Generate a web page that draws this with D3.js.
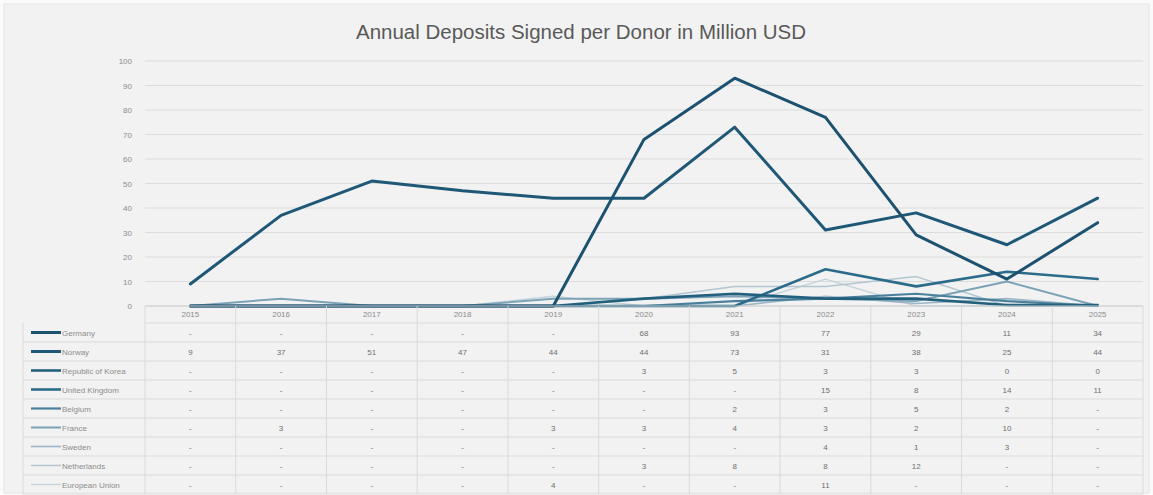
<!DOCTYPE html>
<html><head><meta charset="utf-8">
<script src="https://cdn.jsdelivr.net/npm/d3@7"></script>
<style>
html,body{margin:0;padding:0;background:#fafafa;}
svg{display:block;}
</style></head>
<body>
<svg id="chart" width="1153" height="495"></svg>
<script>
const title = "Annual Deposits Signed per Donor in Million USD";
const years = ["2015","2016","2017","2018","2019","2020","2021","2022","2023","2024","2025"];
const donors = ["Germany","Norway","Republic of Korea","United Kingdom","Belgium","France","Sweden","Netherlands","European Union"];
const germany     = [0,0,0,0,0,68,93,77,29,11,34];
const norway      = [9,37,51,47,44,44,73,31,38,25,44];
const korea       = [0,0,0,0,0,3,5,3,3,0.4,0.4];
const uk          = [0,0,0,0,0,0,0,15,8,14,11];
const belgium     = [0,0,0,0,0,0,2,3,5,2,0];
const france      = [0,3,0,0,3,3,4,3,2,10,0];
const sweden      = [0,0,0,0,0,0,0,4,1,3,0];
const netherlands = [0,0,0,0,0,3,8,8,12,0,0];
const eu          = [0,0,0,0,4,0,0,11,0,0,0];
const yTicks = [0,10,20,30,40,50,60,70,80,90,100];

const seriesValues = [germany,norway,korea,uk,belgium,france,sweden,netherlands,eu];
const colors = ["#1c5170","#1f5876","#23607e","#2c6b89","#4a809b","#7ca2b7","#9cb6c6","#b2c5d0","#c5d3db"];
const widths = [3,3,2.6,2.6,2.2,2,1.6,1.5,1.4];

const svg = d3.select("#chart");
const W = 1153, H = 495;
svg.append("rect").attr("x",4).attr("y",4).attr("width",W-8).attr("height",H-6)
  .attr("fill","#f2f2f2").attr("stroke","#e4e4e4");

svg.append("text").attr("x",581).attr("y",39).attr("text-anchor","middle")
  .attr("font-family","'Liberation Sans Narrow','Arial Narrow','Liberation Sans',sans-serif")
  .attr("font-size",20.5).attr("fill","#595959").text(title);

const pLeft = 145, pRight = 1143, pTop = 61, pBottom = 306;
const x = d3.scaleBand().domain(years).range([pLeft,pRight]);
const y = d3.scaleLinear().domain([0,100]).range([pBottom,pTop]);

// gridlines
svg.append("g").selectAll("line").data(yTicks).join("line")
  .attr("x1",pLeft).attr("x2",pRight).attr("y1",d=>y(d)).attr("y2",d=>y(d))
  .attr("stroke","#dcdcdc").attr("stroke-width",1);

// y axis labels
const yAxis = d3.axisLeft(y).tickValues(yTicks).tickSize(0).tickPadding(0);
const ga = svg.append("g").attr("transform",`translate(${pLeft-13},0)`).call(yAxis);
ga.select(".domain").remove();
ga.selectAll("text").attr("font-family","'Liberation Sans',sans-serif").attr("font-size",8).attr("fill","#8c8c8c");

// lines
const line = d3.line().x((d,i)=>x(years[i])+x.bandwidth()/2).y(d=>y(d));
const order = d3.range(donors.length).reverse();
svg.append("g").selectAll("path").data(order).join("path")
  .attr("d",i=>line(seriesValues[i])).attr("fill","none")
  .attr("stroke",i=>colors[i]).attr("stroke-width",i=>widths[i])
  .attr("stroke-linejoin","round").attr("stroke-linecap","round");

// data table
const rowH = 19, headTop = pBottom, headBot = 323;
const tableLeft = 23;
const gt = svg.append("g");
const rowY = i => headBot + i*rowH;
const tableBottom = rowY(donors.length);
gt.selectAll("line.h").data(d3.range(donors.length+1)).join("line")
  .attr("x1",i=>i===0?pLeft:tableLeft).attr("x2",pRight)
  .attr("y1",i=>rowY(i)).attr("y2",i=>rowY(i))
  .attr("stroke","#dadada");
gt.append("line").attr("x1",pLeft).attr("x2",pRight).attr("y1",pBottom).attr("y2",pBottom).attr("stroke","#d0d0d0");
const vx = years.map(yr=>x(yr)).concat([pRight]);
gt.selectAll("line.v").data(vx).join("line")
  .attr("x1",d=>d).attr("x2",d=>d).attr("y1",headTop).attr("y2",tableBottom)
  .attr("stroke","#dadada");
gt.append("line").attr("x1",tableLeft).attr("x2",tableLeft).attr("y1",headBot).attr("y2",tableBottom).attr("stroke","#dadada");
gt.selectAll("text.yr").data(years).join("text")
  .attr("x",d=>x(d)+x.bandwidth()/2).attr("y",317).attr("text-anchor","middle")
  .attr("font-family","'Liberation Sans',sans-serif").attr("font-size",8).attr("fill","#8c8c8c").text(d=>d);
donors.forEach((name,i)=>{
  const cy = rowY(i)+rowH/2;
  gt.append("line").attr("x1",31).attr("x2",61).attr("y1",cy).attr("y2",cy)
    .attr("stroke",colors[i]).attr("stroke-width",widths[i]);
  gt.append("text").attr("x",62).attr("y",cy+3).attr("font-family","'Liberation Sans',sans-serif")
    .attr("font-size",8).attr("fill","#8c8c8c").text(name);
  gt.selectAll(null).data(seriesValues[i]).join("text")
    .attr("x",(d,j)=>x(years[j])+x.bandwidth()/2).attr("y",cy+3).attr("text-anchor","middle")
    .attr("font-family","'Liberation Sans',sans-serif").attr("font-size",8).attr("fill","#6f6f6f")
    .text(d=>d===0?"-":d3.format(".0f")(d));
});
</script>
</body></html>
